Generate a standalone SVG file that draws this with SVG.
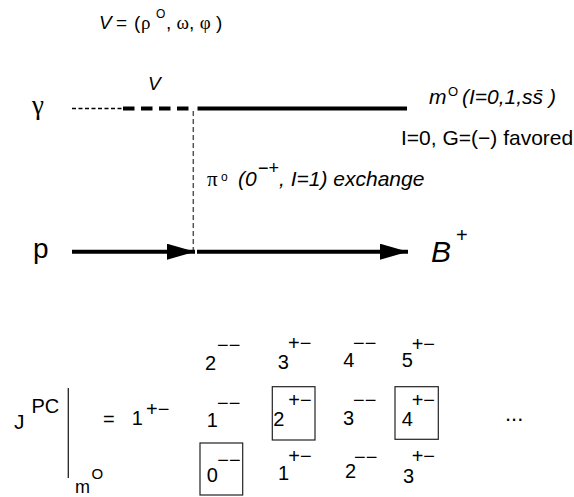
<svg xmlns="http://www.w3.org/2000/svg" width="574" height="497" viewBox="0 0 574 497">
<style>
text{font-family:"Liberation Sans",Arial,sans-serif;fill:#000}
.it{font-style:italic}
.gr{font-family:"Liberation Serif","Times New Roman",serif}
.d{font-size:20px}
.box{fill:none;stroke:#222;stroke-width:1.2}
</style>
<defs>
<marker id="ah" markerWidth="28" markerHeight="16" refX="28" refY="8" markerUnits="userSpaceOnUse" orient="auto">
<path d="M0,0 L28,8 L0,16 Z" fill="#000"/>
</marker>
</defs>
<rect width="574" height="497" fill="#fff"/>
<g id="formula">
<text x="99" y="29" font-size="19"><tspan class="it">V</tspan><tspan x="116">=</tspan><tspan x="134">(</tspan><tspan class="gr" x="141">ρ</tspan></text>
<text x="156" y="18" font-size="12">O</text>
<text x="166" y="29" font-size="19">, <tspan class="gr">ω</tspan>, <tspan class="gr">φ</tspan> )</text>
</g>
<g id="connectors">
<line x1="72" y1="108.5" x2="123" y2="108.5" stroke="#000" stroke-width="1.3" stroke-dasharray="4,2.5"/>
<line x1="123" y1="108.5" x2="193" y2="108.5" stroke="#000" stroke-width="4" stroke-dasharray="11.5,6.5"/>
<line x1="197.5" y1="108.5" x2="407" y2="108.5" stroke="#000" stroke-width="4"/>
<line x1="193.3" y1="111" x2="193.3" y2="250" stroke="#555" stroke-width="1.5" stroke-dasharray="5,3"/>
<line x1="72" y1="251.7" x2="195" y2="251.7" stroke="#000" stroke-width="4" marker-end="url(#ah)"/>
<line x1="197" y1="251.7" x2="408" y2="251.7" stroke="#000" stroke-width="4" marker-end="url(#ah)"/>
</g>
<g id="gamma"><text class="gr" x="32" y="114" font-size="27">γ</text></g>
<g id="V-label"><text class="it" x="148" y="90" font-size="19">V</text></g>
<g id="meson">
<text class="it" x="429" y="104" font-size="21">m</text>
<text x="448" y="96" font-size="13">O</text>
<text class="it" x="462" y="104" font-size="21">(I=0,1,ss̄ )</text>
</g>
<g id="favored"><text x="401" y="145" font-size="21">I=0, G=(−) favored</text></g>
<g id="pion">
<text class="gr" x="207" y="186" font-size="21">π</text>
<text x="221" y="181" font-size="12">o</text>
<text class="it" x="238" y="186" font-size="21">(0</text>
<text x="258" y="174" font-size="18">−+</text>
<text class="it" x="279" y="186" font-size="21">, I=1) exchange</text>
</g>
<g id="proton"><text x="33" y="258" font-size="28">p</text></g>
<g id="baryon">
<text class="it" x="431" y="262" font-size="30">B</text>
<text x="456" y="242" font-size="20">+</text>
</g>
<g id="jpc">
<text x="14" y="429" font-size="21">J</text>
<text x="31.5" y="413" font-size="20">PC</text>
<line x1="68.3" y1="388" x2="68.3" y2="478" stroke="#222" stroke-width="1.3"/>
<text x="75" y="493" font-size="18">m</text>
<text x="91.5" y="479" font-size="15">O</text>
<text x="103" y="426" font-size="20">=</text>
</g>
<g id="states" class="d">
<text x="131.7" y="425">1</text><text x="146" y="415.5">+−</text>
<text x="205" y="370">2</text><text x="217" y="351.5">−−</text>
<text x="206.7" y="426.7">1</text><text x="217" y="409.5">−−</text>
<text x="206.7" y="481.7">0</text><text x="217.3" y="466.5">−−</text>
<text x="277.7" y="369">3</text><text x="288" y="349.5">+−</text>
<text x="273.3" y="426">2</text><text x="288.3" y="406.5">+−</text>
<text x="278" y="480">1</text><text x="288.3" y="463">+−</text>
<text x="343.3" y="367">4</text><text x="353" y="349.5">−−</text>
<text x="343" y="425">3</text><text x="353" y="406.5">−−</text>
<text x="345" y="478">2</text><text x="354" y="463.5">−−</text>
<text x="401.7" y="367">5</text><text x="411.7" y="351">+−</text>
<text x="401.7" y="426">4</text><text x="411.7" y="406.5">+−</text>
<text x="403" y="482.7">3</text><text x="411.7" y="463">+−</text>
<text x="505" y="421" font-size="22">...</text>
</g>
<g id="boxes">
<rect class="box" x="200" y="443" width="42.7" height="52"/>
<rect class="box" x="272.3" y="386.7" width="42.7" height="53.3"/>
<rect class="box" x="395" y="386.7" width="43.3" height="52.6"/>
</g>
</svg>
